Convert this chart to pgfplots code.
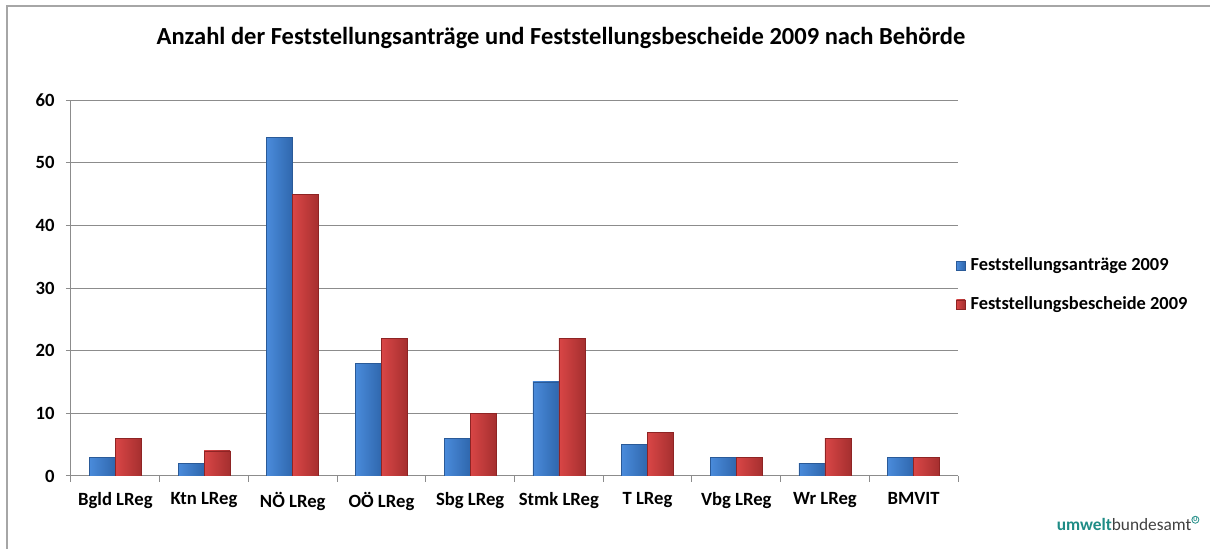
\documentclass[border=0pt]{standalone}
\usepackage{pgfplots}
\pgfplotsset{compat=1.18}
\usepackage{fontspec}
\setmainfont{Carlito}
\definecolor{blueL}{HTML}{4A8BDB}
\definecolor{blueR}{HTML}{2F67AD}
\definecolor{blueE}{HTML}{2A5A98}
\definecolor{redL}{HTML}{D94646}
\definecolor{redR}{HTML}{A52F2F}
\definecolor{redE}{HTML}{8E2424}
\definecolor{gridgray}{HTML}{8C8C8C}
\definecolor{logoteal}{HTML}{1F8C86}
\definecolor{logogray}{HTML}{404040}
\begin{document}
\begin{tikzpicture}
\path[use as bounding box] (0,0) rectangle (907.5pt,411.75pt);
\draw[gray!70, line width=1pt] (5.25pt,0) -- (5.25pt,407.25pt) -- (907.5pt,407.25pt);
\node[font=\bfseries\fontsize{18.4}{21}\selectfont] at (420.75pt,383.25pt) {Anzahl der Feststellungsanträge und Feststellungsbescheide 2009 nach Behörde};
\begin{axis}[
  at={(53.25pt,54.75pt)}, anchor=south west,
  scale only axis, width=665.25pt, height=282pt,
  xmin=-0.5, xmax=9.5, ymin=0, ymax=60,
  ytick={0,10,...,60},
  xtick={0,...,9},
  xticklabels={Bgld LReg, Ktn LReg, NÖ LReg, OÖ LReg, Sbg LReg, Stmk LReg, T LReg, Vbg LReg, Wr LReg, BMVIT},
  minor xtick={-0.5,0.5,...,9.5},
  axis x line*=bottom, axis y line*=left,
  axis line style={gridgray, line width=0.75pt, -},
  ymajorgrids, grid style={gridgray, line width=0.75pt},
  tick align=outside,
  major tick length=3.75pt, minor tick length=4.5pt,
  xtick style={draw=none},
  minor x tick style={draw=gridgray, line width=0.75pt},
  ytick style={gridgray, line width=0.75pt},
  ticklabel style={font=\bfseries\fontsize{14}{16}\selectfont},
  yticklabel style={xshift=-5pt},
  xticklabel style={yshift=-5pt},
  /pgf/number format/assume math mode=true,
  bar width=19.5pt,
  bl/.style={ybar, bar shift=-9.75pt, draw=blueE, left color=blueL, right color=blueR},
  rd/.style={ybar, bar shift=9.75pt, draw=redE, left color=redL, right color=redR},
  legend cell align=left,
  legend style={at={(0.993,0.508)}, anchor=west, draw=none, fill=none,
    row sep=14pt, font=\bfseries\fontsize{13.8}{16}\selectfont,
    /tikz/every odd column/.style={column sep=2pt}},
  legend image code/.code={\fill[#1] (0pt,-3.4pt) rectangle (6.5pt,3.4pt);},
]
% Feststellungsanträge 2009
\addplot[bl] coordinates {(0,3)};
% Feststellungsbescheide 2009
\addplot[rd] coordinates {(0,6)};
\addplot[bl, forget plot] coordinates {(1,2)};
\addplot[bl, forget plot] coordinates {(2,54)};
\addplot[bl, forget plot] coordinates {(3,18)};
\addplot[bl, forget plot] coordinates {(4,6)};
\addplot[bl, forget plot] coordinates {(5,15)};
\addplot[bl, forget plot] coordinates {(6,5)};
\addplot[bl, forget plot] coordinates {(7,3)};
\addplot[bl, forget plot] coordinates {(8,2)};
\addplot[bl, forget plot] coordinates {(9,3)};
\addplot[rd, forget plot] coordinates {(1,4)};
\addplot[rd, forget plot] coordinates {(2,45)};
\addplot[rd, forget plot] coordinates {(3,22)};
\addplot[rd, forget plot] coordinates {(4,10)};
\addplot[rd, forget plot] coordinates {(5,22)};
\addplot[rd, forget plot] coordinates {(6,7)};
\addplot[rd, forget plot] coordinates {(7,3)};
\addplot[rd, forget plot] coordinates {(8,6)};
\addplot[rd, forget plot] coordinates {(9,3)};
\legend{Feststellungsanträge 2009, Feststellungsbescheide 2009}
\end{axis}
\node[anchor=base east, font=\fontsize{13}{15}\selectfont] at (903pt,14pt) {{\color{logoteal}\bfseries umwelt}{\color{logogray}bundesamt}\raisebox{5pt}{\tikz\node[draw=logoteal, circle, inner sep=0.4pt, line width=0.6pt, font=\bfseries\fontsize{4.5}{5}\selectfont, text=logoteal]{U};}};
\end{tikzpicture}
\end{document}
